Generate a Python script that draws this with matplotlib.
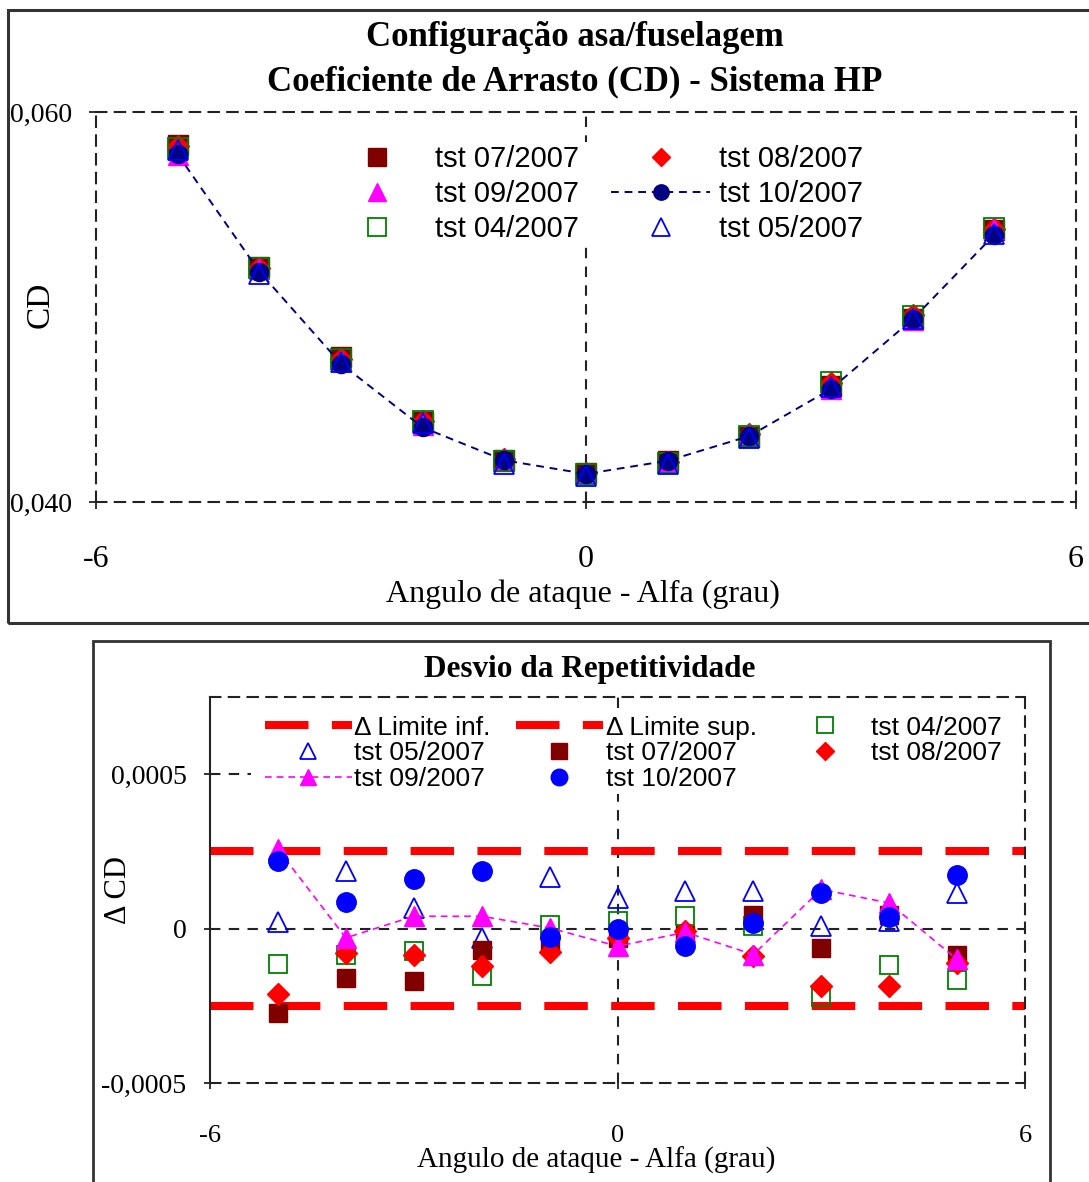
import matplotlib
matplotlib.use("Agg")
import matplotlib.pyplot as plt
from matplotlib.patches import Rectangle
import numpy as np

W, H = 1089, 1182
SERIF = "Liberation Serif"
SANS = "Liberation Sans"

# ---------------- data ----------------
alpha = [-5, -4, -3, -2, -1, 0, 1, 2, 3, 4, 5]
cd_base = [0.05805, 0.05190, 0.04725, 0.04401, 0.04211, 0.04144,
           0.04206, 0.04340, 0.04591, 0.04941, 0.05388]

d04 = [-0.000114, -0.000084, -0.000074, -0.000155, 0.000013, 0.000024,
       0.000042, 0.000010, -0.000220, -0.000119, -0.000166]
d05 = [0.000020, 0.000186, 0.000067, -0.000030, 0.000168, 0.000100,
       0.000121, 0.000121, 0.000010, 0.000024, 0.000116]
d07 = [-0.000272, -0.000160, -0.000171, -0.000068, -0.000046, -0.000030,
       -0.000020, 0.000045, -0.000063, 0.000045, -0.000084]
d08 = [-0.000211, -0.000079, -0.000084, -0.000122, -0.000077, -0.000030,
       -0.000009, -0.000090, -0.000187, -0.000187, -0.000110]
d09 = [0.000257, -0.000030, 0.000040, 0.000040, 0.000002, -0.000057,
       -0.000012, -0.000084, 0.000127, 0.000083, -0.000100]
d10 = [0.000218, 0.000085, 0.000161, 0.000186, -0.000027, 0.000000,
       -0.000055, 0.000018, 0.000116, 0.000038, 0.000175]

lim_inf = -0.00025
lim_sup = 0.00025

x_ticks = [-6, 0, 6]
top_yticks = [0.040, 0.060]
top_yticklabels = ["0,040", "0,060"]
bot_yticks = [-0.0005, 0, 0.0005]
bot_yticklabels = ["-0,0005", "0", "0,0005"]

title1 = "Configuração asa/fuselagem"
title2 = "Coeficiente de Arrasto (CD) - Sistema HP"
title3 = "Desvio da Repetitividade"
xlabel = "Angulo de ataque - Alfa (grau)"

# ---------------- figure ----------------
fig = plt.figure(figsize=(W / 100, H / 100), dpi=100)
fig.patch.set_facecolor("white")


def fx(px):
    return px / W


def fy(py):
    return 1 - py / H


def rect(l, t, r, b):
    return [fx(l), fy(b), fx(r) - fx(l), fy(t) - fy(b)]


# outer frames
fig.patches.append(Rectangle((fx(8), fy(623)), fx(1095) - fx(8), fy(10) - fy(623),
                             transform=fig.transFigure, fill=False, lw=2.2,
                             edgecolor="#333333"))
fig.patches.append(Rectangle((fx(93), fy(1190)), fx(1050) - fx(93), fy(641) - fy(1190),
                             transform=fig.transFigure, fill=False, lw=2.0,
                             edgecolor="#333333"))

DASH = (0, (5, 4))
GRIDC = "#222222"

# ---------------- top chart ----------------
ax1 = fig.add_axes(rect(96, 112, 1076, 502))
ax1.set_xlim(-6, 6)
ax1.set_ylim(0.040, 0.060)
for s in ax1.spines.values():
    s.set_linestyle(DASH)
    s.set_linewidth(1.5)
    s.set_edgecolor(GRIDC)
ax1.axvline(0, color=GRIDC, lw=1.5, ls=DASH, zorder=0.5)

cd = np.array(cd_base)
t07 = cd - np.array(d07)
t08 = cd - np.array(d08)
t09 = cd - np.array(d09)
t04 = cd - np.array(d04)
t10 = cd - np.array(d10)
t05 = cd - np.array(d05)

h07, = ax1.plot(alpha, t07, ls="none", marker="s", ms=15, color="#800000",
                mec="#800000", label="tst 07/2007", zorder=3)
h08, = ax1.plot(alpha, t08, ls="none", marker="D", ms=11, color="#FF0000",
                mec="#FF0000", label="tst 08/2007", zorder=3)
h09, = ax1.plot(alpha, t09, ls="none", marker="^", ms=15, color="#FF00FF",
                mec="#FF00FF", label="tst 09/2007", zorder=3)
h04, = ax1.plot(alpha, t04, ls="none", marker="s", ms=15, mfc="none",
                mec="#008000", mew=1.3, label="tst 04/2007", zorder=3)
h10, = ax1.plot(alpha, t10, ls=(0, (4, 3)), lw=1.4, marker="o", ms=13,
                color="#000080", label="tst 10/2007", zorder=3)
h05, = ax1.plot(alpha, t05, ls="none", marker="^", ms=15, mfc="none",
                mec="#0000FF", mew=1.3, label="tst 05/2007", zorder=3)

ax1.set_xticks(x_ticks)
ax1.set_xticklabels([str(v) for v in x_ticks], fontfamily=SERIF, fontsize=23)
ax1.set_yticks(top_yticks)
ax1.set_yticklabels(top_yticklabels, fontfamily=SERIF, fontsize=20)
ax1.tick_params(axis="x", direction="inout", length=10, width=1.3, pad=26,
                color=GRIDC)
ax1.tick_params(axis="y", direction="inout", length=10, width=1.3, pad=12,
                color=GRIDC)

leg1 = ax1.legend(handles=[h07, h09, h04, h08, h10, h05], ncol=2,
                  loc="upper left", bbox_to_anchor=(fx(324), fy(142)),
                  bbox_transform=fig.transFigure,
                  prop={"family": SANS, "size": 21}, frameon=True,
                  facecolor="white", edgecolor="none", framealpha=1,
                  handlelength=3.4, handletextpad=0.3, columnspacing=1.1,
                  labelspacing=0.24, borderpad=0.1, borderaxespad=0,
                  markerscale=0.85)
leg1.set_zorder(5)

fig.text(fx(575), fy(37), title1, ha="center", va="center",
         fontfamily=SERIF, fontweight="bold", fontsize=25)
fig.text(fx(575), fy(82), title2, ha="center", va="center",
         fontfamily=SERIF, fontweight="bold", fontsize=25)
fig.text(fx(583), fy(594), xlabel, ha="center", va="center",
         fontfamily=SERIF, fontsize=23)
fig.text(fx(40), fy(305), "CD", ha="center", va="center", rotation=90,
         fontfamily=SERIF, fontsize=24)

# ---------------- bottom chart ----------------
ax2 = fig.add_axes(rect(210, 697, 1025, 1083))
ax2.set_xlim(-6, 6)
ax2.set_ylim(-0.0005, 0.00075)
for name, s in ax2.spines.items():
    s.set_linewidth(1.5)
    s.set_edgecolor(GRIDC)
    if name != "left":
        s.set_linestyle(DASH)
ax2.axvline(0, color=GRIDC, lw=1.5, ls=DASH, zorder=0.5)
ax2.axhline(0, color=GRIDC, lw=1.5, ls=DASH, zorder=0.5)
ax2.axhline(0.0005, xmax=0.05, color=GRIDC, lw=1.5, ls=DASH, zorder=0.5)

hinf, = ax2.plot([-6, 6], [lim_inf, lim_inf], color="#FF0000", lw=5.8,
                 ls=(0, (5.4, 2.9)), solid_capstyle="butt",
                 label="Δ Limite inf.", zorder=1)
hsup, = ax2.plot([-6, 6], [lim_sup, lim_sup], color="#FF0000", lw=5.8,
                 ls=(0, (5.4, 2.9)), solid_capstyle="butt",
                 label="Δ Limite sup.", zorder=1)
hb05, = ax2.plot(alpha, d05, ls="none", marker="^", ms=14, mfc="none",
                 mec="#0000FF", mew=1.3, label="tst 05/2007", zorder=3)
hb04, = ax2.plot(alpha, d04, ls="none", marker="s", ms=13, mfc="none",
                 mec="#008000", mew=1.3, label="tst 04/2007", zorder=3)
hb07, = ax2.plot(alpha, d07, ls="none", marker="s", ms=13, color="#800000",
                 label="tst 07/2007", zorder=3)
hb08, = ax2.plot(alpha, d08, ls="none", marker="D", ms=11, color="#FF0000",
                 label="tst 08/2007", zorder=3)
hb09, = ax2.plot(alpha, d09, ls=(0, (4, 3)), lw=1.2, marker="^", ms=14,
                 color="#FF00FF", label="tst 09/2007", zorder=3)
hb10, = ax2.plot(alpha, d10, ls="none", marker="o", ms=14, color="#0000FF",
                 label="tst 10/2007", zorder=3)

ax2.set_xticks(x_ticks)
ax2.set_xticklabels([str(v) for v in x_ticks], fontfamily=SERIF, fontsize=19)
ax2.set_yticks(bot_yticks)
ax2.set_yticklabels(bot_yticklabels, fontfamily=SERIF, fontsize=20)
ax2.tick_params(axis="x", direction="inout", length=8, width=1.3, pad=26,
                color=GRIDC)
ax2.tick_params(axis="y", direction="inout", length=8, width=1.3, pad=13,
                color=GRIDC)

leg2 = ax2.legend(handles=[hinf, hb05, hb09, hsup, hb07, hb10, hb04, hb08],
                  ncol=3, loc="upper left",
                  bbox_to_anchor=(fx(262), fy(713)),
                  bbox_transform=fig.transFigure,
                  prop={"family": SANS, "size": 19}, frameon=True,
                  facecolor="white", edgecolor="none", framealpha=1,
                  handlelength=3.3, handletextpad=0.1, columnspacing=0.95,
                  labelspacing=0.07, borderpad=0.1, borderaxespad=0,
                  markerscale=0.85)
leg2.set_zorder(5)

fig.text(fx(590), fy(669), title3, ha="center", va="center",
         fontfamily=SERIF, fontweight="bold", fontsize=22.5)
fig.text(fx(596), fy(1160), xlabel, ha="center", va="center",
         fontfamily=SERIF, fontsize=21)
fig.text(fx(119), fy(890), "Δ CD", ha="center", va="center", rotation=90,
         fontfamily=SERIF, fontsize=22)

fig.savefig("out.png", dpi=100, facecolor="white")
